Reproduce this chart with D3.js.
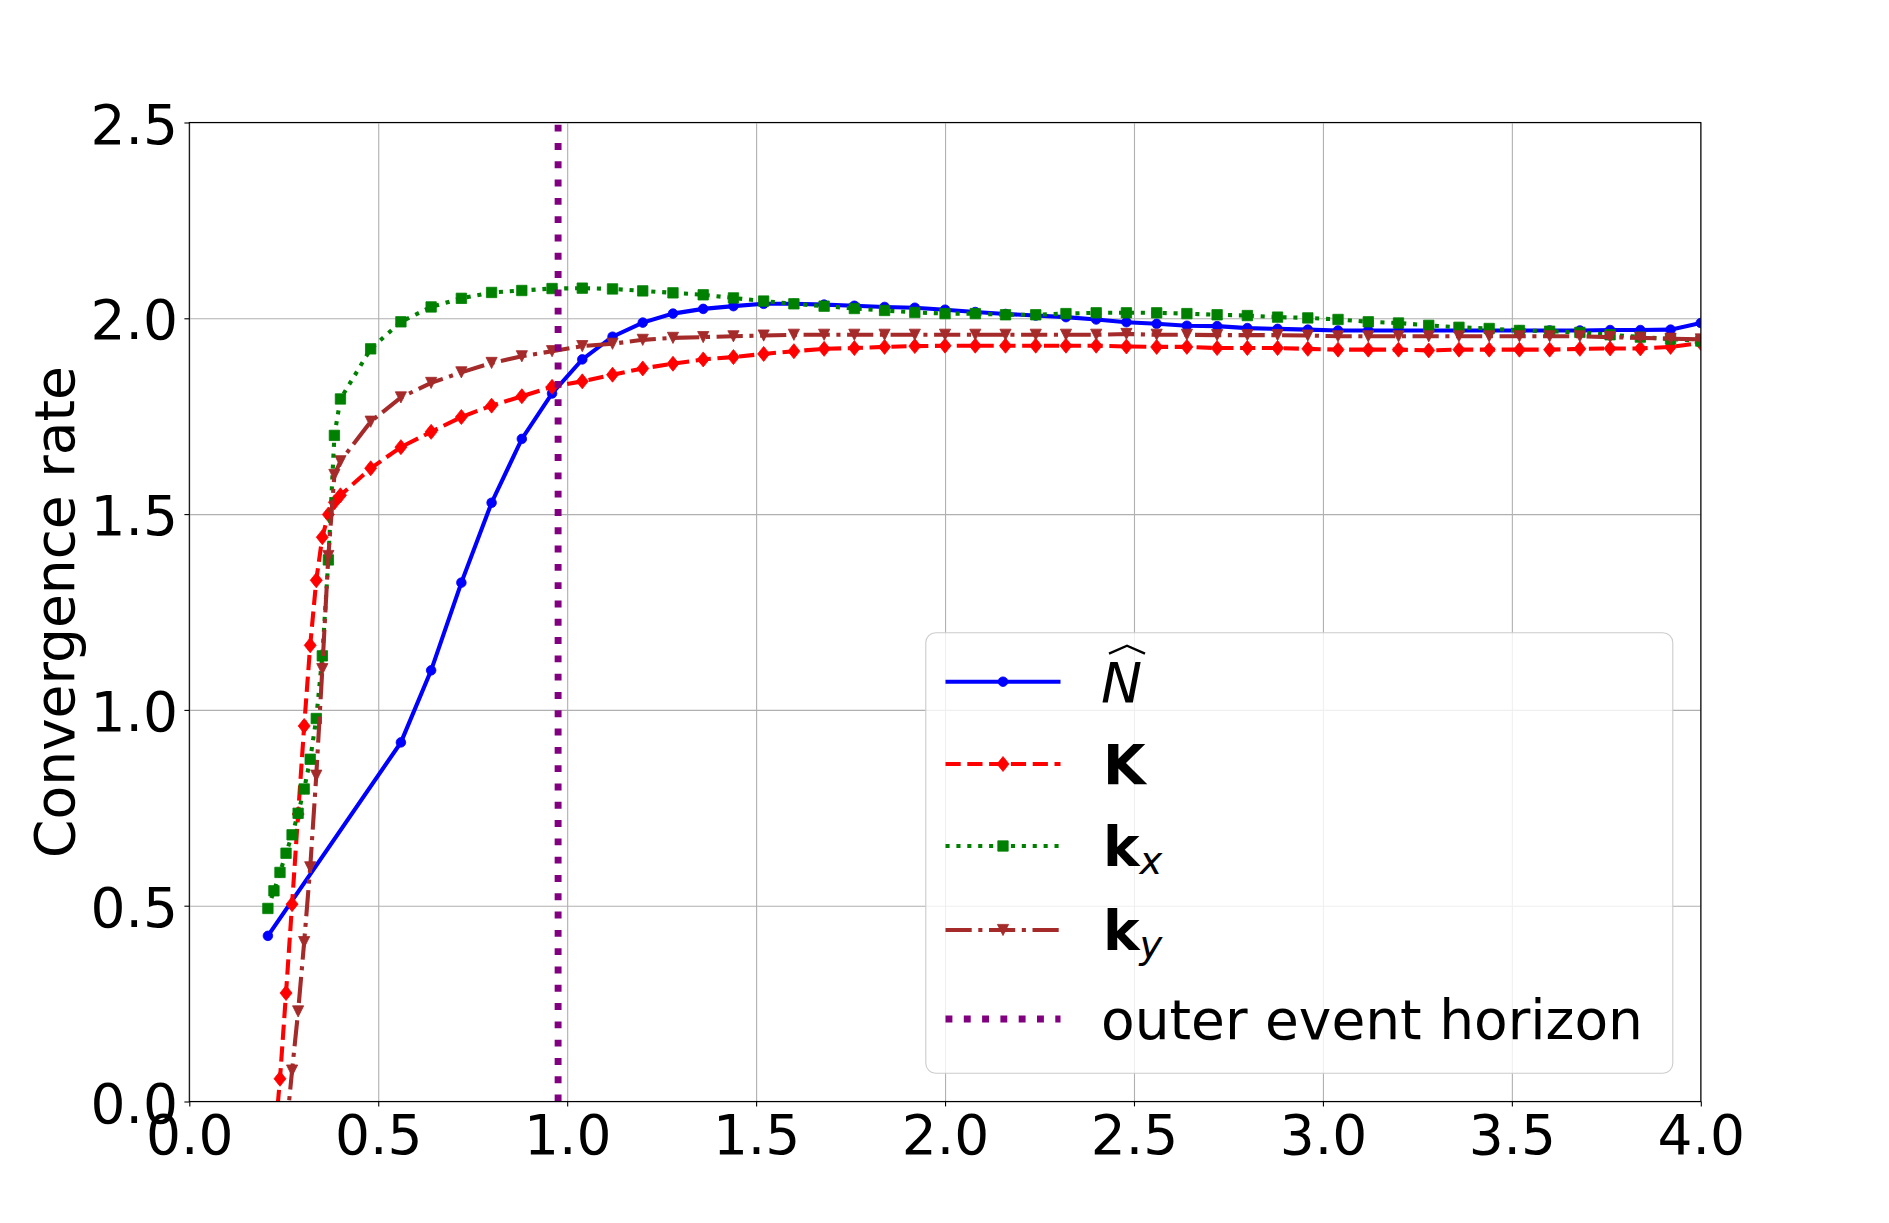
<!DOCTYPE html>
<meta charset="utf-8">
<script src="https://d3js.org/d3.v7.min.js"></script>
<style>
  body { margin: 0; background: #fff; }
  svg text { font-family: "DejaVu Sans", sans-serif; fill: #000; }
</style>
<body>
<div id="viz"></div>
<script>

// ---- values ----
const xTicks = [0.0, 0.5, 1.0, 1.5, 2.0, 2.5, 3.0, 3.5, 4.0];
const yTicks = [0.0, 0.5, 1.0, 1.5, 2.0, 2.5];

// common coarse grid (0.48 .. 4.00)
const coarseX = [0.48, 0.56, 0.64, 0.72, 0.80, 0.88, 0.96, 1.04, 1.12, 1.20,
                 1.28, 1.36, 1.44, 1.52, 1.60, 1.68, 1.76, 1.84, 1.92, 2.00,
                 2.08, 2.16, 2.24, 2.32, 2.40, 2.48, 2.56, 2.64, 2.72, 2.80,
                 2.88, 2.96, 3.04, 3.12, 3.20, 3.28, 3.36, 3.44, 3.52, 3.60,
                 3.68, 3.76, 3.84, 3.92, 4.00];

// N hat
const nHatX = [0.208].concat(coarseX.slice(1));
const nHatY = [0.423, 0.917, 1.101, 1.325, 1.529, 1.692, 1.808, 1.895, 1.953, 1.989,
               2.012, 2.024, 2.031, 2.037, 2.037, 2.035, 2.032, 2.029, 2.027, 2.022,
               2.016, 2.011, 2.007, 2.003, 1.997, 1.990, 1.986, 1.981, 1.980, 1.975,
               1.973, 1.971, 1.969, 1.969, 1.969, 1.969, 1.969, 1.969, 1.969, 1.969,
               1.969, 1.970, 1.970, 1.971, 1.988];

// K
const bigKDenseX = [0.224, 0.240, 0.256, 0.272, 0.288, 0.304, 0.320, 0.336, 0.352, 0.368, 0.384, 0.400];
const bigKDenseY = [-0.12, 0.058, 0.277, 0.504, 0.734, 0.959, 1.165, 1.331, 1.441, 1.499, 1.530, 1.548];
const bigKCoarseY = [1.617, 1.671, 1.710, 1.748, 1.777, 1.801, 1.825, 1.839, 1.856, 1.872,
                     1.884, 1.895, 1.901, 1.909, 1.916, 1.922, 1.924, 1.927, 1.929, 1.930,
                     1.930, 1.930, 1.930, 1.930, 1.930, 1.928, 1.927, 1.927, 1.924, 1.924,
                     1.924, 1.922, 1.920, 1.920, 1.920, 1.918, 1.920, 1.920, 1.920, 1.920,
                     1.922, 1.923, 1.923, 1.927, 1.937];

// k_x
const kxDenseX = [0.208, 0.224, 0.240, 0.256, 0.272, 0.288, 0.304, 0.320, 0.336, 0.352, 0.368, 0.384, 0.400];
const kxDenseY = [0.493, 0.538, 0.585, 0.634, 0.681, 0.736, 0.798, 0.874, 0.978, 1.138, 1.383, 1.701, 1.794];
const kxCoarseY = [1.922, 1.991, 2.029, 2.051, 2.066, 2.071, 2.076, 2.077, 2.075, 2.070,
                   2.065, 2.060, 2.052, 2.044, 2.037, 2.031, 2.025, 2.020, 2.015, 2.012,
                   2.012, 2.009, 2.009, 2.012, 2.014, 2.014, 2.014, 2.012, 2.009, 2.007,
                   2.003, 2.001, 1.997, 1.991, 1.988, 1.982, 1.977, 1.974, 1.969, 1.967,
                   1.964, 1.958, 1.952, 1.947, 1.942];

// k_y
const kyDenseX = [0.256, 0.272, 0.288, 0.304, 0.320, 0.336, 0.352, 0.368, 0.384, 0.400];
const kyDenseY = [-0.08, 0.079, 0.230, 0.407, 0.598, 0.832, 1.104, 1.393, 1.600, 1.635];
const kyCoarseY = [1.736, 1.798, 1.835, 1.862, 1.886, 1.903, 1.916, 1.929, 1.935, 1.945,
                   1.950, 1.952, 1.954, 1.956, 1.958, 1.958, 1.958, 1.958, 1.958, 1.958,
                   1.958, 1.958, 1.958, 1.958, 1.958, 1.960, 1.958, 1.958, 1.957, 1.957,
                   1.957, 1.956, 1.954, 1.954, 1.954, 1.954, 1.954, 1.954, 1.954, 1.954,
                   1.954, 1.952, 1.950, 1.948, 1.946];

const horizonX = 0.976;

// ---- layout ----
const W = 1889, H = 1223;
const margin = {top: 122.5, right: W - 1700.8, bottom: H - 1101.5, left: 189.3},
    width = W - margin.left - margin.right,
    height = H - margin.top - margin.bottom;

const root = d3.select("#viz").append("svg")
    .attr("width", W).attr("height", H)
    .style("display", "block");
root.append("rect").attr("width", W).attr("height", H).attr("fill", "#fff");

const svg = root.append("g")
    .attr("transform", `translate(${margin.left}, ${margin.top})`);

const x = d3.scaleLinear().domain([0, 4]).range([0, width]);
const y = d3.scaleLinear().domain([0, 2.5]).range([height, 0]);

// grid
svg.append("g")
    .attr("transform", `translate(0, ${height})`)
    .call(d3.axisBottom(x).tickValues(xTicks).tickSize(-height).tickFormat(""))
    .call(g => g.select(".domain").remove())
    .selectAll("line").attr("stroke", "#b0b0b0").attr("stroke-width", 1.1);
svg.append("g")
    .call(d3.axisLeft(y).tickValues(yTicks).tickSize(-width).tickFormat(""))
    .call(g => g.select(".domain").remove())
    .selectAll("line").attr("stroke", "#b0b0b0").attr("stroke-width", 1.1);

svg.append("defs").append("clipPath").attr("id", "clip")
  .append("rect").attr("width", width).attr("height", height);

// marker shapes
const markers = {
  circle:   r => `M${r},0A${r},${r},0,1,1,${-r},0A${r},${r},0,1,1,${r},0Z`,
  square:   s => `M${-s},${-s}H${s}V${s}H${-s}Z`,
  diamond:  s => `M0,${-s * 1.25}L${s},0L0,${s * 1.25}L${-s},0Z`,
  triangle: s => `M${-s},${-s}L${s},${-s}L0,${s}Z`
};

const lw = 4.1;
const series = [
  {name: "nhat", xs: nHatX, ys: nHatY, color: "blue", dash: null,
   marker: markers.circle(4.8)},
  {name: "K", xs: bigKDenseX.concat(coarseX), ys: bigKDenseY.concat(bigKCoarseY), color: "red",
   dash: "15.2,6.6", marker: markers.diamond(6)},
  {name: "kx", xs: kxDenseX.concat(coarseX), ys: kxDenseY.concat(kxCoarseY), color: "green",
   dash: "4.1,6.8", marker: markers.square(5.2)},
  {name: "ky", xs: kyDenseX.concat(coarseX), ys: kyDenseY.concat(kyCoarseY), color: "brown",
   dash: "26.2,6.6,4.1,6.6", marker: markers.triangle(5.6)}
];

const line = d3.line().x(d => x(d[0])).y(d => y(d[1]));
const plot = svg.append("g").attr("clip-path", "url(#clip)");

series.forEach(s => {
  const pts = d3.zip(s.xs, s.ys);
  const g = plot.append("g").attr("class", s.name);
  g.append("path")
    .datum(pts)
    .attr("fill", "none")
    .attr("stroke", s.color)
    .attr("stroke-width", lw)
    .attr("stroke-dasharray", s.dash)
    .attr("d", line);
  g.selectAll(".mk").data(pts).join("path")
    .attr("class", "mk")
    .attr("d", s.marker)
    .attr("transform", d => `translate(${x(d[0])}, ${y(d[1])})`)
    .attr("fill", s.color)
    .attr("stroke", s.color)
    .attr("stroke-width", 0.8);
});

// outer event horizon
plot.append("line")
    .attr("x1", x(horizonX)).attr("x2", x(horizonX))
    .attr("y1", height).attr("y2", 0)
    .attr("stroke", "purple")
    .attr("stroke-width", 6.9)
    .attr("stroke-dasharray", "6.9,11.4");

// spines
svg.append("rect")
    .attr("width", width).attr("height", height)
    .attr("fill", "none").attr("stroke", "#000").attr("stroke-width", 1.1);

// axes
const fmt = d3.format(".1f");
svg.append("g")
    .attr("transform", `translate(0, ${height})`)
    .call(d3.axisBottom(x).tickValues(xTicks).tickSize(4.9).tickFormat(fmt))
    .call(g => g.select(".domain").remove())
    .call(g => g.selectAll("line").attr("stroke", "#000").attr("stroke-width", 1.1))
    .call(g => g.selectAll("text")
        .attr("y", 52.5).attr("dy", null)
        .attr("font-size", 55).attr("font-family", "DejaVu Sans").attr("fill", "#000"));

svg.append("g")
    .call(d3.axisLeft(y).tickValues(yTicks).tickSize(4.9).tickFormat(fmt))
    .call(g => g.select(".domain").remove())
    .call(g => g.selectAll("line").attr("stroke", "#000").attr("stroke-width", 1.1))
    .call(g => g.selectAll("text")
        .attr("x", -11.3).attr("dy", "0.375em")
        .attr("font-size", 55).attr("font-family", "DejaVu Sans").attr("fill", "#000"));

// y label
root.append("text")
    .attr("transform", "translate(74, 612) rotate(-90)")
    .attr("text-anchor", "middle")
    .attr("font-size", 55)
    .text("Convergence rate");

// legend
const legend = root.append("g");
legend.append("rect")
    .attr("x", 925.8).attr("y", 632.7)
    .attr("width", 747).attr("height", 440.6)
    .attr("rx", 10).attr("ry", 10)
    .attr("fill", "#fff").attr("fill-opacity", 0.8)
    .attr("stroke", "#cccccc").attr("stroke-width", 1.1);

const rowY = [681.7, 764, 846, 930, 1019];
const handleX0 = 945.5, handleX1 = 1060.5, textX = 1101;

const handles = series.map(s => ({color: s.color, dash: s.dash, marker: s.marker, w: lw}))
  .concat([{color: "purple", dash: "6.9,11.4", marker: null, w: 6.9}]);

handles.forEach((h, i) => {
  legend.append("line")
    .attr("x1", handleX0).attr("x2", handleX1)
    .attr("y1", rowY[i]).attr("y2", rowY[i])
    .attr("stroke", h.color).attr("stroke-width", h.w)
    .attr("stroke-dasharray", h.dash);
  if (h.marker) {
    legend.append("path")
      .attr("d", h.marker)
      .attr("transform", `translate(${(handleX0 + handleX1) / 2}, ${rowY[i]})`)
      .attr("fill", h.color).attr("stroke", h.color).attr("stroke-width", 0.8);
  }
});

// labels
const base = rowY.map(v => v + 20);
// \widehat{N}
legend.append("text").attr("x", textX).attr("y", base[0])
    .attr("font-size", 55).attr("font-style", "italic").text("N");
legend.append("path")
    .attr("d", `M${textX + 8},${base[0] - 48}L${textX + 26},${base[0] - 56}L${textX + 44},${base[0] - 48}`)
    .attr("fill", "none").attr("stroke", "#000").attr("stroke-width", 2.4);
// K
legend.append("text").attr("x", textX + 2).attr("y", base[1])
    .attr("font-size", 55).attr("font-weight", "bold").text("K");
// k_x, k_y
[["x", base[2]], ["y", base[3]]].forEach(([sub, b]) => {
  const t = legend.append("text").attr("x", textX + 2).attr("y", b).attr("font-size", 55);
  t.append("tspan").attr("font-weight", "bold").text("k");
  t.append("tspan").attr("font-style", "italic").attr("font-size", 38.5)
    .attr("dy", 8).text(sub);
});
legend.append("text").attr("x", textX).attr("y", base[4])
    .attr("font-size", 55).text("outer event horizon");

</script>
</body>
